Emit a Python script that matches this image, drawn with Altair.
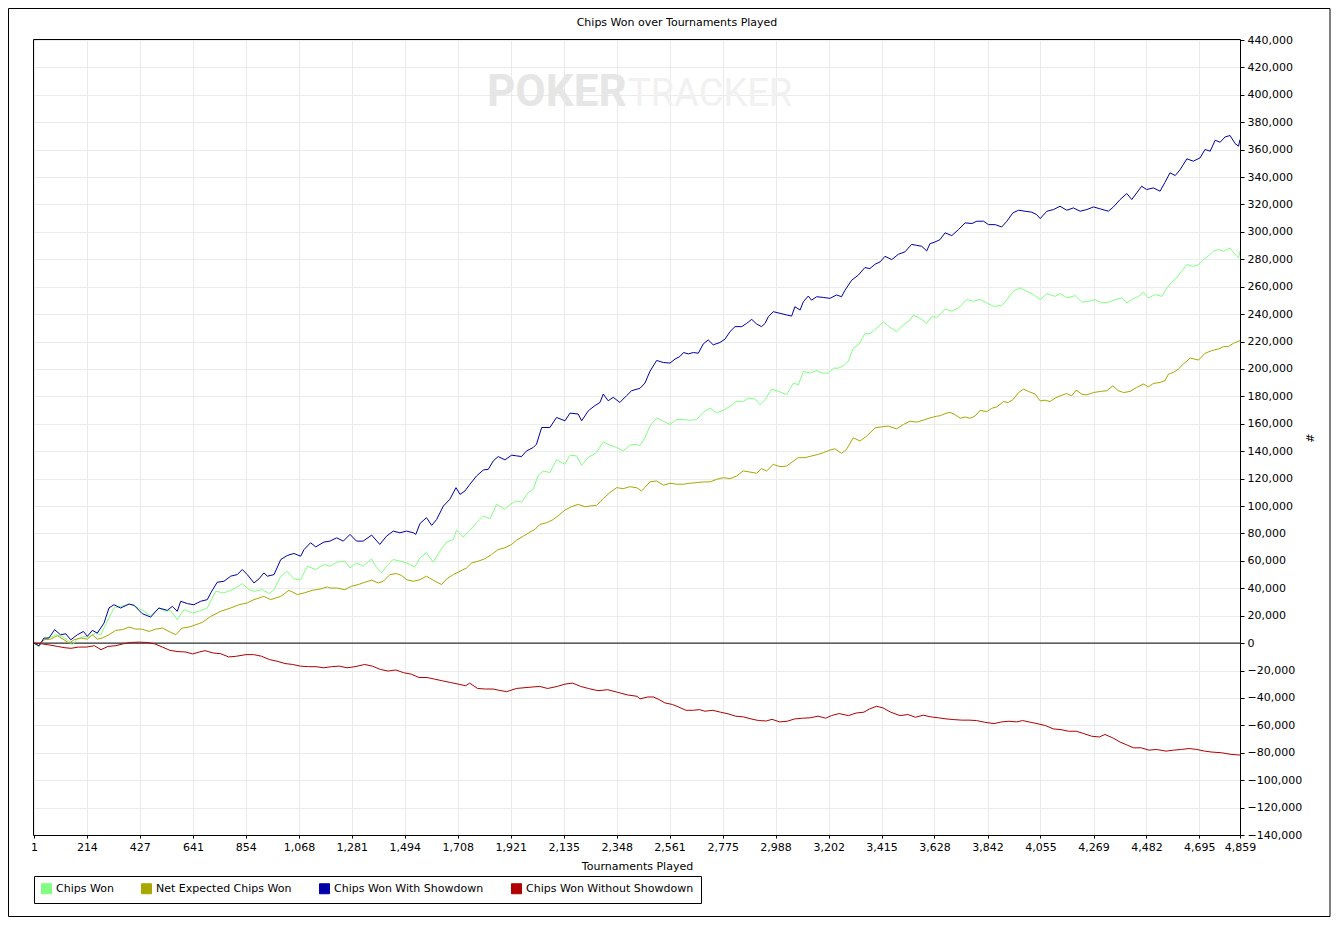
import altair as alt
import pandas as pd

F = "DejaVu Sans"

series_names = ["Chips Won", "Net Expected Chips Won", "Chips Won With Showdown", "Chips Won Without Showdown"]
series_colors = ["#80FF80", "#A8A800", "#0000A8", "#B00000"]

x_tick_labels = [1, 214, 427, 641, 854, 1068, 1281, 1494, 1708, 1921, 2135, 2348, 2561, 2775,
                 2988, 3202, 3415, 3628, 3842, 4055, 4269, 4482, 4695, 4859]
y_tick_values = list(range(-140000, 440001, 20000))

# Chips Won With Showdown (thousands)
sd_t = [1,21,41,61,84,108,129,149,176,200,216,236,256,283,303,323,350,384,404,437,
        471,504,538,558,578,592,619,645,672,699,713,739,766,793,820,840,860,887,907,927,
        941,968,995,1021,1048,1075,1089,1115,1136,1169,
        1193,1220,1247,1274,1300,1327,1361,1394,1421,1448,1475,1502,1529,1539,1556,1582,1603,1623,1650,1676,
        1701,1717,1737,1757,1784,1811,1831,1851,1871,1898,1925,1945,1965,1985,2012,2025,2046,2079,2106,2140,
        2160,2193,2207,2234,2260,2281,2294,2314,2334,2361,2388,2408,2442,
        2462,2482,2509,2536,2563,2583,2603,2617,2637,2657,2677,2697,2717,2737,2764,2784,2805,2825,2852,2872,
        2892,2912,2932,2946,2959,2979,3006,3033,3053,3066,3087,3100,3120,3133,3154,3180,3207,3234,3254,3268,
        3295,3321,3348,3368,3389,3409,3429,3456,3483,3509,3536,3556,3577,3597,3610,3630,3650,
        3671,3698,3725,3752,3779,3799,3826,3846,3873,3899,3920,3944,3967,3993,4020,4040,4054,4081,4108,4134,
        4161,4188,4215,4242,4269,4296,4329,4349,4376,4403,4423,4443,4463,4483,4510,4537,4557,4577,4598,4618,
        4645,4671,4698,4718,4739,4759,4779,4799,4819,4839,4853,4859]
sd_v = [0,-2.0,3.7,3.7,9.8,6.1,6.8,2.4,6.1,8.5,4.9,9.3,7.3,14.6,25.6,28.0,25.6,28.5,27.6,21.5,
        19.0,25.6,23.9,26.8,23.2,30.5,28.8,28.0,30.5,31.7,36.6,44.4,45.1,48.8,50.0,53.7,50.0,43.9,46.8,51.2,
        48.8,50.0,61.0,63.9,65.4,63.4,68.3,73.2,70.2,73.7,
        74.4,76.8,74.4,79.3,74.4,74.4,78.8,72.0,78.0,81.7,80.5,81.7,80.5,79.3,87.3,91.5,85.9,90.2,100.0,104.9,
        113.4,108.5,111.0,115.9,122.0,126.3,126.8,132.9,136.1,133.7,137.1,136.6,136.1,140.2,142.7,145.1,157.3,157.3,164.6,162.2,
        167.8,167.1,162.2,169.5,173.2,175.6,181.7,176.8,179.3,175.6,180.5,184.1,185.9,
        189.7,198.2,206.2,204.7,204.3,207.2,209.1,212.0,211.0,212.0,211.5,218.3,221.2,217.6,219.3,221.7,227.3,230.9,230.9,233.3,
        236.2,232.8,230.9,233.3,238.1,241.8,240.6,239.4,238.6,245.4,243.0,249.0,253.2,250.2,252.7,252.2,251.5,254.0,252.7,257.5,
        264.8,268.4,274.0,273.2,276.4,278.1,282.2,279.8,283.7,285.4,290.9,290.2,289.5,286.1,291.4,292.6,294.3,
        299.3,297.3,301.7,306.6,306.1,307.8,307.8,305.3,305.3,303.6,307.8,313.9,315.8,315.1,314.4,312.6,309.7,315.1,316.3,318.7,
        315.8,317.5,315.1,316.3,318.2,316.8,315.1,318.2,323.6,328.0,323.6,328.5,333.3,330.9,332.1,329.7,336.2,343.1,341.1,345.5,
        353.3,351.6,354.0,360.1,358.9,366.9,365.4,369.3,370.3,364.5,362.5,367.4]

# Chips Won (thousands)
cw_t = [1,21,41,61,88,115,135,155,176,202,223,249,270,296,323,350,384,410,444,471,
        504,531,551,578,605,639,666,699,733,766,807,840,867,887,921,948,968,995,1021,1048,
        1075,1102,1136,1169,
        1193,1220,1253,1274,1300,1327,1361,1381,1401,1421,1448,1475,1502,1535,1556,1582,1609,1636,1663,1690,
        1703,1730,1757,1784,1811,1838,1864,1898,1918,1945,1965,1992,2012,2032,2052,2079,2106,2140,2160,2187,
        2207,2234,2267,2294,2321,2348,2375,2401,2428,
        2442,2462,2482,2509,2536,2563,2590,2617,2643,2670,2697,2724,2751,2778,2805,2831,2858,2878,2905,2925,
        2946,2972,2999,3033,3060,3080,3100,3127,3154,3174,3201,3221,3241,3261,3281,3301,3328,3348,3368,3395,
        3422,3449,3476,3503,3530,3543,3570,3597,3617,3637,
        3651,3671,3698,3725,3758,3785,3812,3839,3866,3899,3920,3946,3973,4000,4027,4054,4081,4114,4134,4161,
        4195,4222,4248,4275,4302,4329,4356,4383,4403,4423,4450,4470,4490,4517,4544,4564,4584,4604,4624,4645,
        4671,4692,4712,4732,4752,4772,4792,4819,4839,4853,4859]
cw_v = [0,-2.9,2.9,3.7,6.1,4.9,2.4,-1.2,2.9,4.9,4.4,7.3,6.1,15.9,25.6,26.8,28.5,26.8,23.2,20.0,
        25.6,23.2,23.9,17.1,24.4,22.0,23.2,25.6,37.8,36.6,39.5,43.4,39.0,37.8,39.0,36.1,39.0,48.8,52.4,46.8,
        46.3,56.1,53.7,57.3,
        56.1,59.0,59.8,54.9,58.5,56.1,61.5,54.9,51.2,56.1,61.0,59.8,58.5,55.6,62.2,65.9,59.0,67.1,73.7,75.6,
        82.4,77.3,82.4,87.8,92.7,90.7,101.2,97.6,101.2,103.7,102.9,109.8,112.2,122.4,125.6,124.4,133.7,130.5,137.1,136.6,
        129.8,135.4,139.0,146.8,144.4,142.7,140.2,144.4,145.1,
        144.2,149.8,158.3,164.3,161.9,159.5,163.1,163.1,162.6,163.1,168.4,171.6,167.9,169.9,172.8,176.4,176.4,178.8,178.1,174.0,
        177.6,185.4,183.7,181.3,189.7,188.5,198.2,197.0,198.9,197.0,197.0,200.6,200.6,202.3,205.5,215.1,218.8,226.0,225.5,229.7,
        234.5,230.4,227.2,232.1,235.7,239.4,236.9,233.3,238.1,237.6,
        239.7,243.8,242.1,244.5,250.6,249.4,250.6,248.2,245.7,246.2,250.6,256.7,259.1,256.7,254.3,250.6,255.0,253.0,255.0,251.8,
        253.5,248.7,249.4,250.6,248.2,248.7,250.6,251.8,248.2,250.6,253.0,256.0,251.8,254.3,253.0,259.1,263.3,266.4,271.3,276.2,
        274.9,276.2,279.8,282.7,285.9,287.1,285.9,288.3,283.5,281.0,285.9]

# Net Expected Chips Won (thousands)
ne_t = [1,21,41,68,95,122,142,162,189,216,236,256,276,303,330,357,384,410,437,464,
        491,518,545,572,598,625,652,679,713,753,793,827,860,887,927,954,995,1028,1062,1089,
        1122,1156,1183,
        1193,1220,1253,1280,1307,1334,1361,1388,1408,1435,1462,1482,1502,1529,1556,1582,1609,1643,1663,1690,
        1717,1744,1764,1791,1817,1844,1871,1898,1925,1945,1972,1999,2019,2039,2066,2093,2119,2140,2166,2193,
        2220,2240,2267,2294,2321,2348,2375,2401,2428,2448,
        2462,2482,2509,2536,2563,2590,2617,2643,2670,2697,2724,2751,2778,2805,2831,2858,2885,2912,2932,2952,
        2979,3006,3033,3060,3080,3107,3133,3160,3180,3207,3227,3254,3274,3301,3328,3355,3389,3415,3442,3476,
        3503,3530,3556,3583,3610,3637,
        3651,3671,3691,3711,3732,3752,3772,3792,3812,3839,3859,3879,3906,3926,3946,3967,3987,4007,4034,4054,
        4074,4094,4114,4134,4161,4181,4199,4222,4242,4269,4296,4322,4347,4369,4390,4416,4443,4470,4490,4510,
        4537,4557,4571,4591,4611,4631,4658,4692,4718,4745,4772,4792,4812,4833,4859]
ne_v = [0,-2.0,2.4,2.9,5.4,2.4,0,2.4,3.7,2.9,6.1,2.9,3.7,6.1,9.3,9.8,11.7,10.2,10.2,8.5,
        10.2,11.0,8.5,6.1,11.0,11.7,13.4,15.1,19.5,23.2,25.6,28.0,29.3,31.7,34.1,31.7,34.1,38.5,35.4,36.6,
        38.5,39.5,41.0,
        40.2,40.2,39.0,41.5,42.7,44.4,45.9,43.9,45.1,50.0,50.7,49.3,46.3,45.1,46.3,48.8,45.9,42.7,46.8,50.0,
        52.4,54.9,58.5,59.8,61.5,64.6,68.3,69.5,72.0,75.1,78.0,81.0,82.9,86.6,87.8,90.2,93.9,97.1,99.5,101.2,
        99.5,100.0,100.5,105.4,109.8,113.4,112.7,114.1,113.4,111.0,
        113.5,117.6,118.3,115.2,116.6,115.9,115.9,116.6,117.1,117.6,117.6,119.5,120.7,120.0,121.9,125.6,124.8,123.9,127.3,125.6,
        130.4,128.7,129.2,132.8,135.3,135.3,136.5,137.7,138.9,140.8,141.8,138.4,141.3,149.8,147.4,151.0,157.0,157.8,158.3,156.3,
        159.5,161.9,161.2,162.6,164.3,165.5,
        165.9,167.4,168.4,166.7,164.0,165.0,164.0,165.7,169.8,168.9,171.3,172.3,176.2,175.5,177.9,182.8,185.3,183.6,181.6,176.7,
        177.2,176.2,178.7,180.4,182.1,180.4,184.5,181.6,181.1,182.8,183.6,184.1,187.7,184.1,182.8,183.6,186.5,189.0,187.0,189.4,
        190.2,191.4,196.3,197.5,200.0,203.6,208.0,206.5,211.4,213.4,214.6,216.3,216.3,218.8,220.7]

# Chips Won Without Showdown (thousands)
nsd_t = [1,32,64,95,126,150,181,213,244,271,299,330,361,393,424,455,487,518,549,581,
         612,640,667,690,722,753,785,816,855,886,918,949,980,1012,1043,1074,1106,1137,1168,1200,
         1231,1262,1294,1333,1364,1396,1427,1458,1490,1521,1552,1584,1615,1646,1678,1709,1740,1756,1788,1819,
         1850,1882,1905,1944,1991,2038,2070,2109,2140,2171,2203,2234,2273,2312,2352,2391,2430,
         2442,2473,2496,2519,2542,2573,2596,2627,2658,2681,2704,2735,2766,2797,2827,2858,2889,2920,2951,2974,
         3005,3035,3066,3097,3128,3159,3190,3213,3244,3282,3313,3344,3367,3395,3421,3452,3490,3521,3552,3583,
         3613,3644,3675,3706,3737,3768,3798,3829,3868,3899,3929,3960,3983,4014,4045,4076,4107,4138,4168,4199,
         4230,4261,4292,4315,4346,4376,4407,4430,4461,4492,4523,4561,4592,4623,4654,4685,4716,4746,4785,4823,
         4859]
nsd_v = [0,-0.5,-1.4,-2.4,-3.4,-3.8,-2.9,-2.9,-1.9,-4.8,-2.4,-1.9,-0.5,0.5,0.7,0.5,-0.5,-2.9,-5.3,-6.2,
         -6.5,-7.9,-6.5,-5.5,-7.2,-7.7,-10.1,-9.6,-8.4,-8.4,-9.6,-12.0,-13.2,-14.9,-15.6,-16.8,-17.2,-17.2,-18.0,-17.2,
         -16.8,-18.0,-17.2,-15.6,-16.8,-19.2,-20.4,-19.6,-21.6,-22.7,-25.1,-25.1,-26.3,-27.5,-28.7,-29.9,-31.1,-29.2,-33.1,-33.5,
         -33.5,-34.7,-35.4,-33.1,-32.3,-31.6,-33.1,-31.6,-29.9,-29.2,-31.6,-33.1,-34.7,-34.0,-35.9,-37.8,-38.8,
         -40.7,-39.3,-39.3,-41.2,-43.6,-44.8,-46.5,-49.0,-49.0,-48.5,-49.7,-49.0,-50.4,-51.6,-53.3,-53.8,-55.3,-56.5,-56.8,-55.6,
         -57.5,-57.0,-55.3,-54.8,-54.5,-53.3,-54.8,-52.9,-51.4,-52.9,-51.0,-50.4,-48.0,-46.1,-47.3,-50.4,-52.9,-52.1,-54.1,-52.6,
         -53.8,-54.5,-55.3,-55.8,-56.2,-56.2,-56.5,-57.7,-58.7,-57.5,-57.0,-57.5,-56.5,-57.7,-58.9,-60.2,-62.6,-63.1,-64.3,-64.3,
         -66.0,-67.9,-68.5,-66.7,-69.1,-72.2,-74.6,-76.4,-76.4,-78.1,-77.6,-78.8,-78.1,-77.6,-76.9,-77.6,-78.8,-79.5,-80.0,-81.2,
         -81.7]

rows = []
for name, ts, vs in [(series_names[0], cw_t, cw_v), (series_names[1], ne_t, ne_v),
                     (series_names[2], sd_t, sd_v), (series_names[3], nsd_t, nsd_v)]:
    for t, v in zip(ts, vs):
        rows.append({"t": t, "v": v * 1000, "s": name})
df = pd.DataFrame(rows)

W, H = 1206, 795
cscale = alt.Scale(domain=series_names, range=series_colors)
xscale = alt.Scale(domain=[1, 4859], nice=False, zero=False)
yscale = alt.Scale(domain=[-140000, 440000], nice=False, zero=False)

dummy = pd.DataFrame({"a": [0]})

border = alt.Chart(dummy).mark_rect(fillOpacity=0, stroke="black", strokeWidth=1).encode(
    x=alt.value(-25.5), x2=alt.value(1296), y=alt.value(-31.5), y2=alt.value(876.5))

frame = alt.Chart(dummy).mark_rect(fillOpacity=0, stroke="black", strokeWidth=1).encode(
    x=alt.value(-0.5), x2=alt.value(W + 0.5), y=alt.value(-0.5), y2=alt.value(H + 0.5))

title = alt.Chart(dummy).mark_text(text="Chips Won over Tournaments Played", align="center",
                                    baseline="middle", font=F, fontSize=11, color="black").encode(
    x=alt.value(643), y=alt.value(-17))

wm1 = alt.Chart(dummy).mark_text(text="POKER", align="left", baseline="alphabetic", font="Roboto",
                                  fontSize=44, fontWeight="bold", color="#e6e6e6").encode(
    x=alt.value(453), y=alt.value(66))
wm2 = alt.Chart(dummy).mark_text(text="TRACKER", align="left", baseline="alphabetic", font="Roboto",
                                  fontSize=38, fontWeight="normal", color="#f1f1f1").encode(
    x=alt.value(594), y=alt.value(66))

legend_layer = alt.Chart(df).transform_filter("datum.v > 1e12").mark_square(
    size=100, filled=True, stroke="black", strokeWidth=1, opacity=1).encode(
    color=alt.Color("s:N", scale=cscale,
                    legend=alt.Legend(title=None, orient="none", legendX=0, legendY=836,
                                      direction="horizontal", symbolType="square", symbolSize=100,
                                      symbolStrokeColor="black", symbolStrokeWidth=1, symbolOpacity=1,
                                      labelFont=F, labelFontSize=11, labelColor="black",
                                      labelOffset=4, labelLimit=400, columnPadding=25, padding=7,
                                      strokeColor="black", fillColor="white")))

lines = alt.Chart(df).mark_line(strokeWidth=1).encode(
    x=alt.X("t:Q", scale=xscale,
            axis=alt.Axis(values=x_tick_labels, format=",d", title="Tournaments Played",
                          grid=True, tickSize=3, labelPadding=3, titlePadding=8, tickCount=60,
                          labelFlush=False, labelOverlap=False)),
    y=alt.Y("v:Q", scale=yscale,
            axis=alt.Axis(orient="right", values=y_tick_values, format=",d", title="#",
                          grid=True, tickSize=4, labelPadding=3, titlePadding=2, tickCount=60,
                          labelOverlap=False)),
    color=alt.Color("s:N", scale=cscale, legend=None),
)

zero = alt.Chart(pd.DataFrame({"v": [0]})).mark_rule(color="black", strokeWidth=1).encode(
    y=alt.Y("v:Q", scale=yscale))

chart = alt.layer(legend_layer, border, title, wm1, wm2, zero, lines, frame).properties(
    width=W, height=H, padding=0, background="white",
).configure_view(stroke="black", strokeWidth=1).configure_axis(
    labelFont=F, titleFont=F, labelFontSize=11, titleFontSize=11, titleFontWeight="normal",
    labelColor="black", titleColor="black", domainColor="black", tickColor="black",
    gridColor="#ebebeb")

chart.save("out.html", embed_options={"renderer": "svg", "actions": False})
